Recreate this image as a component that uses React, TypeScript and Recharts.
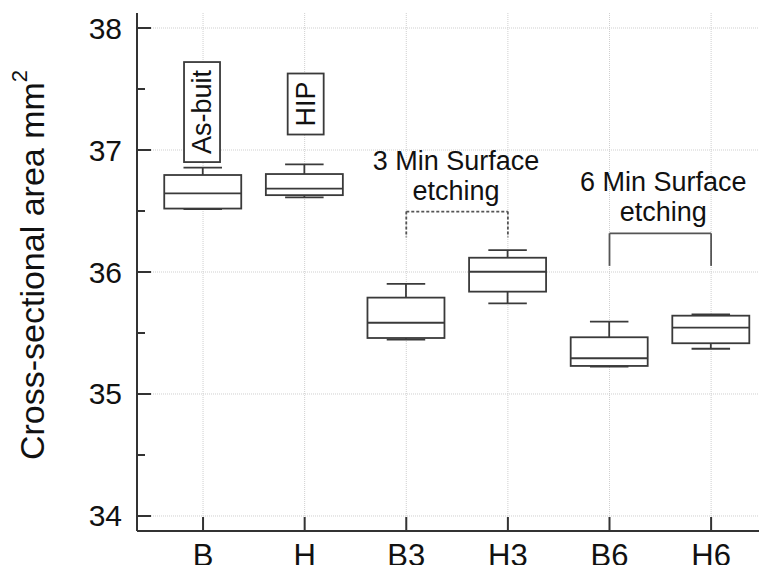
import React from "react";
import {
  ComposedChart,
  Bar,
  XAxis,
  YAxis,
  CartesianGrid,
  ReferenceLine,
  ReferenceDot,
  Label,
} from "recharts";

const FONT = '"Liberation Sans", Arial, Helvetica, sans-serif';
const INK = "#3a3a3a";

// box plot values
const categories = ["B", "H", "B3", "H3", "B6", "H6"];
const whiskerLow = [36.515, 36.612, 35.445, 35.743, 35.224, 35.371];
const q1 = [36.52, 36.63, 35.459, 35.839, 35.23, 35.416];
const medians = [36.645, 36.683, 35.584, 36.002, 35.293, 35.544];
const q3 = [36.795, 36.803, 35.79, 36.117, 35.465, 35.642];
const whiskerHigh = [36.855, 36.883, 35.902, 36.18, 35.593, 35.653];

const yTicks = [34, 34.5, 35, 35.5, 36, 36.5, 37, 37.5, 38];
const gridY = [34, 35, 36, 37, 38];
const xTicks = [1, 2, 3, 4, 5, 6];

// annotations
const noteLabels = ["As-buit", "HIP"];
const notePos = [0.99, 2.01];
const noteValues = [37.311, 37.377];

const groupTitles = [
  ["3 Min Surface", "etching"],
  ["6 Min Surface", "etching"],
];
const groupCenter = [3.49, 5.53];
const groupTextValue = [36.84, 36.665];
const groupFrom = [3, 5];
const groupTo = [4, 6];
const bracketTop = [36.495, 36.317];
const bracketEnd = [36.285, 36.05];
const bracketDashed = [true, false];

const data = categories.map((name, i) => ({
  name,
  pos: i + 1,
  min: whiskerLow[i],
  q1: q1[i],
  median: medians[i],
  q3: q3[i],
  max: whiskerHigh[i],
}));

const measure = (text: string, size: number) => {
  try {
    const ctx = document.createElement("canvas").getContext("2d");
    if (ctx) {
      ctx.font = `${size}px "Liberation Sans", Arial`;
      return ctx.measureText(text).width;
    }
  } catch (e) {}
  return text.length * size * 0.55;
};

const BoxShape = (props: any) => {
  const { x, y, width, height, payload } = props;
  if (!payload || !height) return null;
  const ppu = height / (payload.q3 - payload.q1);
  const py = (v: number) => y + (payload.q3 - v) * ppu;
  const cx = x + width / 2;
  const cap = width / 4;
  const top = py(payload.max);
  const bottom = py(payload.min);
  const mid = py(payload.median);
  return (
    <g stroke={INK} strokeWidth={1.8}>
      <line x1={cx} x2={cx} y1={top} y2={y} />
      <line x1={cx} x2={cx} y1={y + height} y2={bottom} />
      <line x1={cx - cap} x2={cx + cap} y1={top} y2={top} />
      <line x1={cx - cap} x2={cx + cap} y1={bottom} y2={bottom} />
      <rect x={x} y={y} width={width} height={height} fill="#fff" />
      <line x1={x} x2={x + width} y1={mid} y2={mid} />
    </g>
  );
};

const YTick = (props: any) => {
  const { x, y, payload } = props;
  const major = Number.isInteger(payload.value);
  const axisX = x + 15;
  return (
    <g>
      <line
        x1={axisX}
        x2={axisX + (major ? 14 : 8)}
        y1={y}
        y2={y}
        stroke="#333"
        strokeWidth={2}
      />
      {major && (
        <text
          x={x}
          y={y}
          textAnchor="end"
          dominantBaseline="central"
          fontFamily={FONT}
          fontSize={30}
          fill="#111"
        >
          {payload.value}
        </text>
      )}
    </g>
  );
};

const XTick = (props: any) => {
  const { x, y, payload } = props;
  return (
    <g>
      <line x1={x} x2={x} y1={y} y2={y - 14} stroke="#333" strokeWidth={2} />
      <text
        x={x}
        y={y + 35}
        textAnchor="middle"
        fontFamily={FONT}
        fontSize={31}
        fill="#111"
      >
        {categories[payload.value - 1]}
      </text>
    </g>
  );
};

const renderYLabel = (props: any) => {
  const vb = props.viewBox || { x: 0, y: 13, width: 137, height: 518 };
  const cx = vb.x + 32;
  const cy = vb.y + vb.height / 2 - 7;
  return (
    <text
      x={cx}
      y={cy}
      transform={`rotate(-90, ${cx}, ${cy})`}
      textAnchor="middle"
      dominantBaseline="central"
      fontFamily={FONT}
      fontSize={34}
      fill="#111"
    >
      Cross-sectional area mm
      <tspan fontSize={22} dy={-13}>
        2
      </tspan>
    </text>
  );
};

const noteShape = (label: string) => (props: any) => {
  const { cx, cy } = props;
  const size = 27;
  const len = measure(label, size) + 16;
  return (
    <g>
      <rect
        x={cx - 18}
        y={cy - len / 2}
        width={36}
        height={len}
        fill="#fff"
        stroke={INK}
        strokeWidth={1.8}
      />
      <text
        x={cx}
        y={cy}
        transform={`rotate(-90, ${cx}, ${cy})`}
        textAnchor="middle"
        dominantBaseline="central"
        fontFamily={FONT}
        fontSize={size}
        fill="#111"
      >
        {label}
      </text>
    </g>
  );
};

const titleShape = (lines: string[]) => (props: any) => {
  const { cx, cy } = props;
  return (
    <g>
      {lines.map((t, i) => (
        <text
          key={t}
          x={cx}
          y={cy + i * 30.5}
          textAnchor="middle"
          fontFamily={FONT}
          fontSize={27}
          fill="#111"
        >
          {t}
        </text>
      ))}
    </g>
  );
};

export default function App() {
  return (
    <div style={{ margin: -8, width: 767, height: 573, background: "#fff" }}>
      <ComposedChart
        width={767}
        height={573}
        data={data}
        margin={{ top: 13, right: 0, bottom: 0, left: 0 }}
      >
        <CartesianGrid
          stroke="#cfcfcf"
          strokeDasharray="1 1"
          horizontalValues={gridY}
          verticalValues={xTicks}
        />
        <XAxis
          type="number"
          dataKey="pos"
          domain={[0.35, 6.55]}
          allowDataOverflow
          ticks={xTicks}
          interval={0}
          height={42}
          tickSize={0}
          tickMargin={0}
          tickLine={false}
          axisLine={{ stroke: "#333", strokeWidth: 2 }}
          tick={<XTick />}
        />
        <YAxis
          type="number"
          domain={[33.877, 38.123]}
          allowDataOverflow
          ticks={yTicks}
          interval={0}
          width={137}
          tickSize={0}
          tickMargin={15}
          tickLine={false}
          axisLine={{ stroke: "#333", strokeWidth: 2 }}
          tick={<YTick />}
        >
          <Label content={renderYLabel} />
        </YAxis>
        <Bar
          dataKey={(d: any) => [d.q1, d.q3]}
          barSize={77}
          shape={<BoxShape />}
          isAnimationActive={false}
        />
        {groupTitles.map((_, i) => (
          <ReferenceLine
            key={`bt${i}`}
            segment={[
              { x: groupFrom[i], y: bracketTop[i] },
              { x: groupTo[i], y: bracketTop[i] },
            ]}
            stroke="#555"
            strokeWidth={1.8}
            strokeDasharray={bracketDashed[i] ? "3 2" : undefined}
          />
        ))}
        {groupTitles.map((_, i) => (
          <ReferenceLine
            key={`bl${i}`}
            segment={[
              { x: groupFrom[i], y: bracketTop[i] },
              { x: groupFrom[i], y: bracketEnd[i] },
            ]}
            stroke="#555"
            strokeWidth={1.8}
            strokeDasharray={bracketDashed[i] ? "3 2" : undefined}
          />
        ))}
        {groupTitles.map((_, i) => (
          <ReferenceLine
            key={`br${i}`}
            segment={[
              { x: groupTo[i], y: bracketTop[i] },
              { x: groupTo[i], y: bracketEnd[i] },
            ]}
            stroke="#555"
            strokeWidth={1.8}
            strokeDasharray={bracketDashed[i] ? "3 2" : undefined}
          />
        ))}
        {groupTitles.map((lines, i) => (
          <ReferenceDot
            key={`gt${i}`}
            x={groupCenter[i]}
            y={groupTextValue[i]}
            r={0}
            shape={titleShape(lines)}
          />
        ))}
        {noteLabels.map((label, i) => (
          <ReferenceDot
            key={`n${i}`}
            x={notePos[i]}
            y={noteValues[i]}
            r={0}
            shape={noteShape(label)}
          />
        ))}
      </ComposedChart>
    </div>
  );
}
